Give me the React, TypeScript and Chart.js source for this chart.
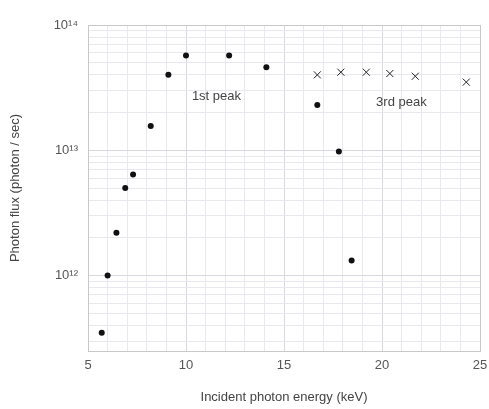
import React, { useEffect, useRef } from "react";
import { Chart, registerables } from "chart.js";

Chart.register(...registerables);

const circleX = [5.7, 6.0, 6.45, 6.9, 7.3, 8.2, 9.1, 10.0, 12.2, 14.1, 16.7, 17.8, 18.45];
const circleY = [3.5e11, 1.0e12, 2.2e12, 5.0e12, 6.4e12, 1.56e13, 4.0e13, 5.7e13, 5.7e13, 4.6e13, 2.3e13, 9.8e12, 1.32e12];
const crossX = [16.7, 17.9, 19.2, 20.4, 21.7, 24.3];
const crossY = [4.0e13, 4.2e13, 4.2e13, 4.1e13, 3.9e13, 3.5e13];
const yTickValues = [1e12, 1e13, 1e14];
const yTickLabels = ["10¹²", "10¹³", "10¹⁴"];
const xTickLabels = [5, 10, 15, 20, 25];
const annotations = [
  { text: "1st peak", x: 10.3, y: 2.7e13 },
  { text: "3rd peak", x: 19.7, y: 2.4e13 },
];

const FONT = "'Liberation Sans', Arial, sans-serif";

export default function App() {
  const ref = useRef<HTMLCanvasElement | null>(null);
  useEffect(() => {
    document.body.style.margin = "0";
    const ctx = ref.current!.getContext("2d")!;
    const annotPlugin = {
      id: "annot",
      afterDatasetsDraw(chart: any) {
        const c = chart.ctx;
        const xs = chart.scales.x;
        const ys = chart.scales.y;
        c.save();
        c.font = `13px ${FONT}`;
        c.fillStyle = "#444";
        c.textAlign = "left";
        c.textBaseline = "middle";
        annotations.forEach((a) => {
          c.fillText(a.text, xs.getPixelForValue(a.x), ys.getPixelForValue(a.y));
        });
        c.restore();
      },
    };
    const chart = new Chart(ctx, {
      type: "scatter",
      data: {
        datasets: [
          {
            data: circleX.map((x, i) => ({ x, y: circleY[i] })),
            pointStyle: "circle",
            pointRadius: 3,
            backgroundColor: "#111",
            borderColor: "#111",
            borderWidth: 0,
          },
          {
            data: crossX.map((x, i) => ({ x, y: crossY[i] })),
            pointStyle: "crossRot",
            pointRadius: 5,
            borderColor: "#222",
            borderWidth: 1,
          },
        ],
      },
      options: {
        animation: false,
        responsive: false,
        layout: { padding: { top: 25, right: 9, left: 4, bottom: 0 } },
        plugins: { legend: { display: false }, tooltip: { enabled: false } },
        scales: {
          x: {
            type: "linear",
            min: 5,
            max: 25,
            ticks: {
              stepSize: 1,
              autoSkip: false,
              maxRotation: 0,
              color: "#555",
              font: { family: FONT, size: 13 },
              padding: 7,
              callback: (v: any) => (xTickLabels.includes(Number(v)) ? String(v) : ""),
            },
            grid: {
              color: (c: any) => (c.tick && Number(c.tick.value) % 5 === 0 ? "#d8d8e0" : "#e8e8ee"),
              drawTicks: false,
            },
            border: { display: true, color: "#c8c8c8" },
            title: {
              display: true,
              text: "Incident photon energy (keV)",
              color: "#444",
              font: { family: FONT, size: 13 },
              padding: { top: 7 },
            },
            afterFit: (s: any) => {
              s.height = 58;
              s.paddingRight = 9;
            },
          },
          y: {
            type: "logarithmic",
            min: 2.5e11,
            max: 1e14,
            afterBuildTicks: (s: any) => {
              const t: any[] = [];
              for (let e = 11; e <= 13; e++) {
                for (let m = 1; m <= 9; m++) {
                  const v = m * Math.pow(10, e);
                  if (v >= 2.5e11 && v <= 1e14) t.push({ value: v });
                }
              }
              t.push({ value: 1e14 });
              s.ticks = t;
            },
            ticks: {
              autoSkip: false,
              color: "#555",
              font: { family: FONT, size: 13 },
              padding: 10,
              callback: (v: any) => {
                const i = yTickValues.findIndex((t) => Math.abs(t - Number(v)) / t < 1e-6);
                return i >= 0 ? yTickLabels[i] : "";
              },
            },
            grid: {
              color: (c: any) => {
                const v = c.tick ? Number(c.tick.value) : 0;
                return yTickValues.some((t) => Math.abs(t - v) / t < 1e-6) ? "#d8d8e0" : "#e8e8ee";
              },
              drawTicks: false,
            },
            border: { display: true, color: "#c8c8c8" },
            title: {
              display: true,
              text: "Photon flux (photon / sec)",
              color: "#444",
              font: { family: FONT, size: 13 },
              padding: { top: 4, bottom: 4 },
            },
            afterFit: (s: any) => {
              s.width = 84;
            },
          },
        },
      },
      plugins: [
        annotPlugin,
        {
          id: "rightTopBorder",
          afterDraw(chart: any) {
            const { left, right, top, bottom } = chart.chartArea;
            const c = chart.ctx;
            c.save();
            c.strokeStyle = "#c8c8c8";
            c.lineWidth = 1;
            c.beginPath();
            c.moveTo(left, top + 0.5);
            c.lineTo(right + 0.5, top + 0.5);
            c.lineTo(right + 0.5, bottom);
            c.stroke();
            c.restore();
          },
        },
      ],
    } as any);
    return () => chart.destroy();
  }, []);
  return (
    <div style={{ position: "absolute", left: 0, top: 0, width: 489, height: 409, background: "#fff" }}>
      <canvas ref={ref} width={489} height={409} />
    </div>
  );
}
